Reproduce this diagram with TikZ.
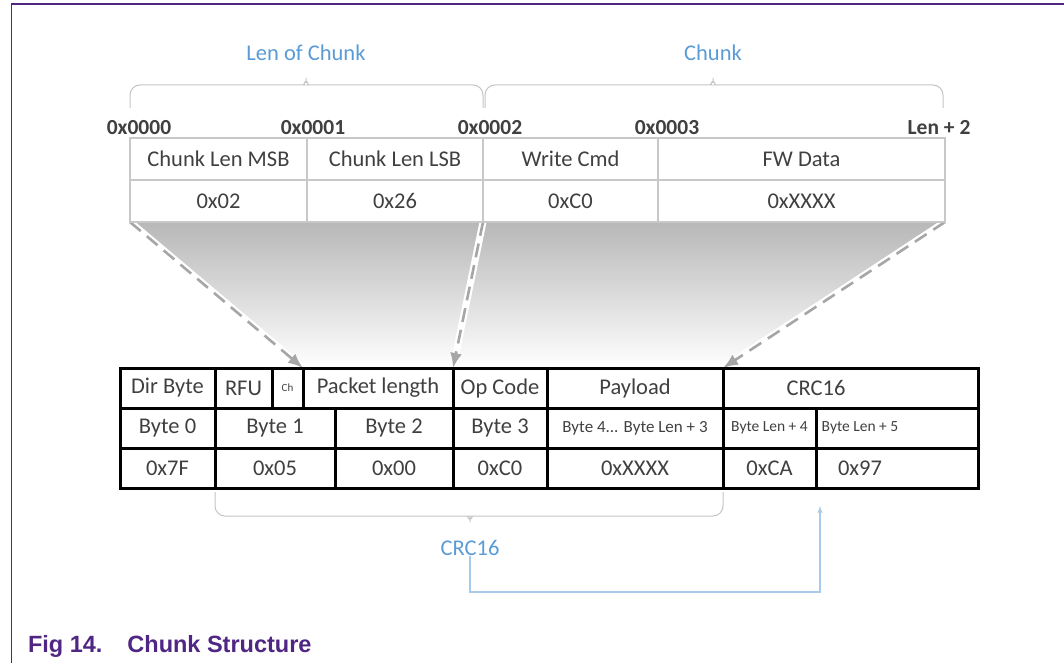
\documentclass[tikz,border=0pt]{standalone}
\usepackage{fontspec}
\setmainfont{Carlito}
\newfontfamily\capfont{Liberation Sans}
\usetikzlibrary{positioning,backgrounds,arrows.meta}

\definecolor{cellgray}{HTML}{C8C8C8}
\definecolor{textgray}{HTML}{404040}
\definecolor{bracegray}{HTML}{C4C4C4}
\definecolor{labelblue}{HTML}{5B9BD5}
\definecolor{lineblue}{HTML}{A9CBEA}
\definecolor{arrowgray}{HTML}{A6A6A6}
\definecolor{nxppurple}{HTML}{4F2683}

\begin{document}
\begin{tikzpicture}[
  x=1pt,y=-1pt,>=latex,
  every node/.style={inner sep=0pt,outer sep=0pt,text=textgray,font=\fontsize{22.5}{26}\selectfont},
  upper/.style={draw=cellgray,line width=2pt,anchor=north west,minimum height=42pt},
  lower/.style={draw=black,line width=3pt,anchor=north west,minimum height=40pt},
  smalltext/.style={font=\fontsize{15.5}{18}\selectfont},
  addr/.style={font=\bfseries\fontsize{21.5}{24}\selectfont},
  bluetext/.style={text=labelblue},
  bracepath/.style={draw=bracegray,line width=1pt,rounded corners=10pt},
  zoomline/.style={draw=arrowgray,line width=2.6pt,dash pattern=on 14pt off 8pt,
    -{Latex[length=15pt,width=12pt]},
    preaction={draw=white,line width=7pt,solid,-}},
  ]
  \useasboundingbox (0,0) rectangle (1064,663);
  \draw[nxppurple,line width=1.5pt] (1064,4) -- (11.5,4) -- (11.5,663);

  % chunk
  \node[upper,minimum width=177pt] (msb) at (130,138) {Chunk Len MSB};
  \node[upper,minimum width=176pt,right=0pt of msb] (lsb) {Chunk Len LSB};
  \node[upper,minimum width=175pt,right=0pt of lsb] (wcmd) {Write Cmd};
  \node[upper,minimum width=287pt,right=0pt of wcmd] (fw) {FW Data};
  \node[upper,minimum width=177pt,below=0pt of msb] (msbval) {0x02};
  \node[upper,minimum width=176pt,right=0pt of msbval] (lsbval) {0x26};
  \node[upper,minimum width=175pt,right=0pt of lsbval] (wcmdval) {0xC0};
  \node[upper,minimum width=287pt,right=0pt of wcmdval] (fwval) {0xXXXX};

  \node[addr] (addr0) at (139,128) {0x0000};
  \node[addr] (addr1) at (313,128) {0x0001};
  \node[addr] (addr2) at (490,128) {0x0002};
  \node[addr] (addr3) at (667,128) {0x0003};
  \node[addr] (addr4) at (939,128) {Len + 2};

  \path[bracepath] (130,108) |- (295,85) .. controls (302,85) and (306,80) .. (306,72)
    .. controls (306,80) and (310,85) .. (317,85) -| (483,108);
  \path[bracepath] (485,108) |- (702,85) .. controls (709,85) and (713,80) .. (713,72)
    .. controls (713,80) and (717,85) .. (724,85) -| (943,108);
  \node[bluetext] (lenlabel) at (306,53) {Len of Chunk};
  \node[bluetext] (chunklabel) at (713,53) {Chunk};

  % packet
  \node[lower,minimum width=95pt] (dir) at (120,368) {Dir Byte};
  \node[lower,minimum width=57pt,right=0pt of dir] (rfu) {RFU};
  \node[lower,minimum width=31pt,right=0pt of rfu,font=\fontsize{11}{13}\selectfont] (ch) {Ch};
  \node[lower,minimum width=150pt,right=0pt of ch] (plen) {Packet length};
  \node[lower,minimum width=94pt,right=0pt of plen] (opc) {Op Code};
  \node[lower,minimum width=176pt,right=0pt of opc] (pay) {Payload};
  \node[lower,minimum width=255pt,right=0pt of pay] (crc) {\makebox[255pt][l]{\makebox[186pt]{CRC16}}};

  \node[lower,minimum width=95pt,below=0pt of dir] (byte0) {Byte 0};
  \node[lower,minimum width=120pt,right=0pt of byte0] (byte1) {Byte 1};
  \node[lower,minimum width=118pt,right=0pt of byte1] (byte2) {Byte 2};
  \node[lower,minimum width=94pt,right=0pt of byte2] (byte3) {Byte 3};
  \node[lower,minimum width=176pt,right=0pt of byte3,font=\fontsize{17}{20}\selectfont] (byte4) {Byte 4... Byte Len + 3};
  \node[lower,minimum width=93pt,right=0pt of byte4,smalltext] (byte5) {Byte Len + 4};
  \node[lower,minimum width=162pt,right=0pt of byte5,smalltext] (byte6) {\makebox[162pt][l]{\makebox[88pt]{Byte Len + 5}}};

  \node[lower,minimum width=95pt,below=0pt of byte0] (val0) {0x7F};
  \node[lower,minimum width=120pt,right=0pt of val0] (val1) {0x05};
  \node[lower,minimum width=118pt,right=0pt of val1] (val2) {0x00};
  \node[lower,minimum width=94pt,right=0pt of val2] (val3) {0xC0};
  \node[lower,minimum width=176pt,right=0pt of val3] (val4) {0xXXXX};
  \node[lower,minimum width=93pt,right=0pt of val4] (val5) {0xCA};
  \node[lower,minimum width=162pt,right=0pt of val5] (val6) {\makebox[162pt][l]{\makebox[88pt]{0x97}}};

  \begin{scope}[on background layer]
    \shade[top color=black!28,bottom color=white]
      (msbval.south west) -- (fwval.south east) -- (crc.north west) -- (plen.north west) -- cycle;
    \path[zoomline] (msbval.south west) -- (plen.north west);
    \path[zoomline] (wcmdval.south west) -- (opc.north west);
    \path[zoomline] (fwval.south east) -- (crc.north west);
  \end{scope}

  % crc
  \path[bracepath] (215,492) |- (459,516) .. controls (466,516) and (470,521) .. (470,528)
    .. controls (470,521) and (474,516) .. (481,516) -| (723,492);
  \node[bluetext] (crclabel) at (470,548) {CRC16};
  \coordinate (crcturn) at (820,592);
  \coordinate (crcin) at (820,506);
  \draw[lineblue,line width=1.3pt,->] (crclabel.south) |- (crcturn) -- (crcin);

  \node[anchor=base west,text=nxppurple,font=\capfont\bfseries\fontsize{23.5}{28}\selectfont]
    (caption) at (28,652) {Fig 14.\hspace{25pt}Chunk Structure};
\end{tikzpicture}
\end{document}
